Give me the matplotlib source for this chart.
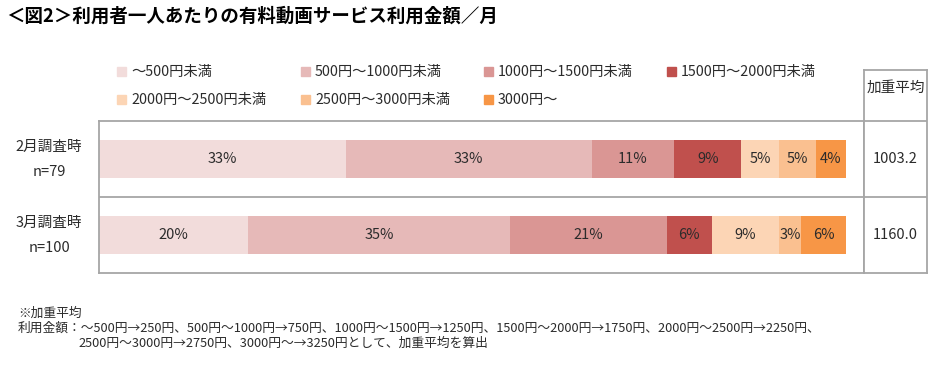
import matplotlib.pyplot as plt
from matplotlib.patches import Rectangle

plt.rcParams['font.family'] = ['Noto Sans CJK JP', 'DejaVu Sans']

# data
categories = ["～500円未満", "500円～1000円未満", "1000円～1500円未満", "1500円～2000円未満",
              "2000円～2500円未満", "2500円～3000円未満", "3000円～"]
colors = ["#F2DCDB", "#E6B9B8", "#DA9694", "#C0504D", "#FCD5B5", "#FAC090", "#F79646"]
groups = ["2月調査時\nn=79", "3月調査時\nn=100"]
feb = [33, 33, 11, 9, 5, 5, 4]
mar = [20, 35, 21, 6, 9, 3, 6]
weighted_avg = ["1003.2", "1160.0"]

W, H = 940, 370
fig = plt.figure(figsize=(W / 100, H / 100), dpi=100)
fig.patch.set_facecolor("white")

def fx(px):
    return px / W

def fy(py):
    return 1 - py / H

edge = "#A6A6A6"
txt = "#2B2B2B"

# title
fig.text(fx(6), fy(16), "＜図2＞利用者一人あたりの有料動画サービス利用金額／月",
         fontsize=13.3, fontweight="bold", va="center", ha="left", color="black")

# main bar area
ax = fig.add_axes([fx(99), fy(273), fx(765), 152 / H])
ax.set_xlim(0, 100 * 765 / 747)
ax.set_ylim(2, 0)
rows = [feb, mar]
for i, vals in enumerate(rows):
    left = 0
    for j, v in enumerate(vals):
        b = ax.barh(i + 0.5, v, left=left, height=0.5, color=colors[j], edgecolor="none")
        ax.bar_label(b, labels=[f"{v}%"], label_type="center", fontsize=10.5, color=txt)
        left += v
    ax.text(-50 / 765, i + 0.5, groups[i], transform=ax.get_yaxis_transform(),
            ha="center", va="center", fontsize=10.5, color=txt, linespacing=2.0)
ax.axhline(1, color=edge, lw=1.3)
ax.set_xticks([])
ax.set_yticks([])
for s in ax.spines.values():
    s.set_color(edge)
    s.set_linewidth(1.3)

# weighted average column
tx = fig.add_axes([fx(864), fy(273), fx(63), 203 / H])
tx.set_xlim(0, 1)
tx.set_ylim(2, -51 / 76)
tx.axhline(0, color=edge, lw=1.3)
tx.axhline(1, color=edge, lw=1.3)
tx.text(0.5, -0.44, "加重平均", ha="center", va="center", fontsize=10.5, color=txt)
for i, v in enumerate(weighted_avg):
    tx.text(0.5, i + 0.5, v, ha="center", va="center", fontsize=10.5, color=txt)
tx.set_xticks([])
tx.set_yticks([])
for s in tx.spines.values():
    s.set_color(edge)
    s.set_linewidth(1.3)

# legend
col_x = [121, 305, 488, 671]
row_y = [72, 100]
for k, (lab, c) in enumerate(zip(categories, colors)):
    x = col_x[k % 4]
    y = row_y[k // 4]
    fig.patches.append(Rectangle((fx(x - 4), fy(y + 4)), fx(9), 9 / H, color=c,
                                 transform=fig.transFigure, figure=fig))
    fig.text(fx(x + 10), fy(y), lab, fontsize=10.3, va="center", ha="left", color=txt)

# footnote
fs = 9.2
fig.text(fx(18), fy(313), "※加重平均", fontsize=fs, va="center", ha="left", color=txt)
fig.text(fx(18), fy(328),
         "利用金額：～500円→250円、500円～1000円→750円、1000円～1500円→1250円、"
         "1500円～2000円→1750円、2000円～2500円→2250円、",
         fontsize=fs, va="center", ha="left", color=txt)
fig.text(fx(78), fy(343), "2500円～3000円→2750円、3000円～→3250円として、加重平均を算出",
         fontsize=fs, va="center", ha="left", color=txt)

fig.savefig("out.png", dpi=100)
